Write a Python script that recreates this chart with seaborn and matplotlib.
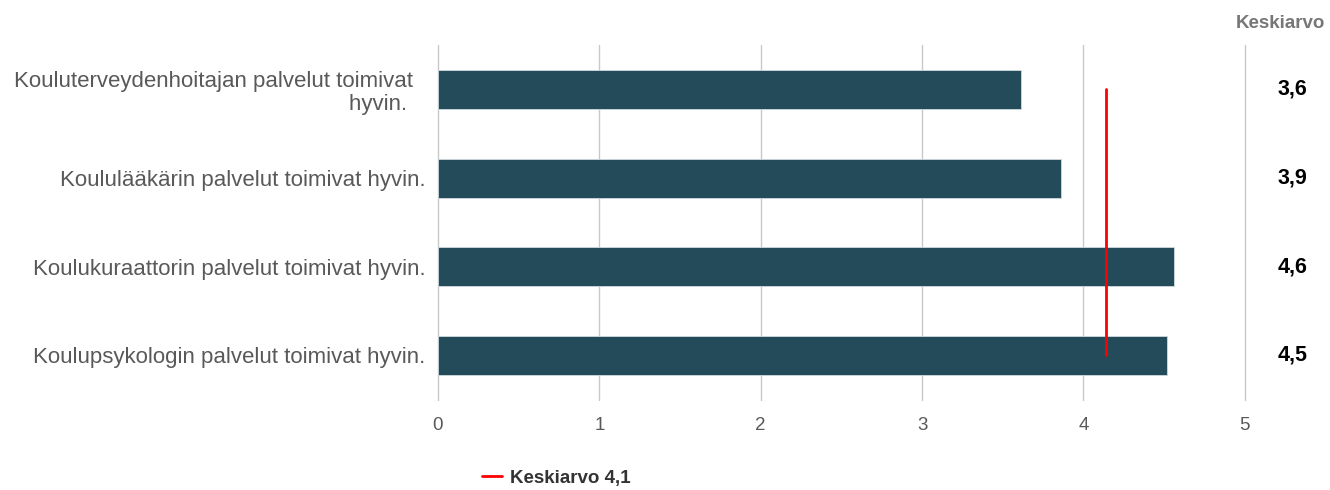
import pandas as pd
import numpy as np
import matplotlib
matplotlib.use('Agg')
import matplotlib.pyplot as plt
import seaborn as sns
from matplotlib.lines import Line2D

sns.set_style('white')
plt.rcParams['font.family'] = ['Liberation Sans', 'DejaVu Sans']

questions = ['Kouluterveydenhoitajan palvelut toimivat  \nhyvin.   ',
             'Koululääkärin palvelut toimivat hyvin.',
             'Koulukuraattorin palvelut toimivat hyvin.',
             'Koulupsykologin palvelut toimivat hyvin.']
values = [3.61, 3.86, 4.56, 4.52]
shown = ['3,6', '3,9', '4,6', '4,5']
mean_value = 4.14
mean_label = 'Keskiarvo 4,1'

df = pd.DataFrame({'question': questions, 'value': values})

fig = plt.figure(figsize=(13.3, 4.9), dpi=100)
ax = fig.add_axes([0.3293, 0.184, 0.6067, 0.724])

sns.barplot(data=df, x='value', y='question', color='#234b5a', width=0.44,
            saturation=1, edgecolor='#d0dadf', linewidth=0.6, ax=ax, zorder=3)

ax.set_xlim(0, 5)
ax.set_ylim(3.5, -0.5)
ax.set_xticks(range(6))
ax.xaxis.grid(True, color='#c8c8c8', linewidth=1, zorder=0)
for gl in ax.get_xgridlines():
    gl.set_clip_on(False)
ax.set_axisbelow(True)
for s in ax.spines.values():
    s.set_visible(False)
ax.tick_params(axis='both', length=0)
ax.tick_params(axis='x', pad=12, labelsize=13.5, labelcolor='#595959')
ax.tick_params(axis='y', pad=9, labelsize=16, labelcolor='#595959')
for lab in ax.get_yticklabels():
    lab.set_horizontalalignment('right')
    lab.set_multialignment('right')
    lab.set_linespacing(1.1)
ax.set_xlabel('')
ax.set_ylabel('')

# mean line
ax.plot([mean_value, mean_value], [0, 3], color='#ff0000', linewidth=2, zorder=4)

# value column on the right
for i, txt in enumerate(shown):
    ax.text(1.0593, i, txt, transform=ax.get_yaxis_transform(), ha='center',
            va='center', fontsize=15.5, fontweight='bold', color='black')
fig.text(0.9624, 0.953, 'Keskiarvo', ha='center', va='center', fontsize=13.5,
         fontweight='bold', color='#777777')

handle = Line2D([0], [0], color='#ff0000', linewidth=2)
fig.legend([handle], [mean_label], loc='center', bbox_to_anchor=(0.418, 0.024),
           frameon=False, handlelength=1.1, handletextpad=0.4,
           prop={'size': 13.5, 'weight': 'bold'}, labelcolor='#333333')

fig.savefig('out.png', dpi=100)
